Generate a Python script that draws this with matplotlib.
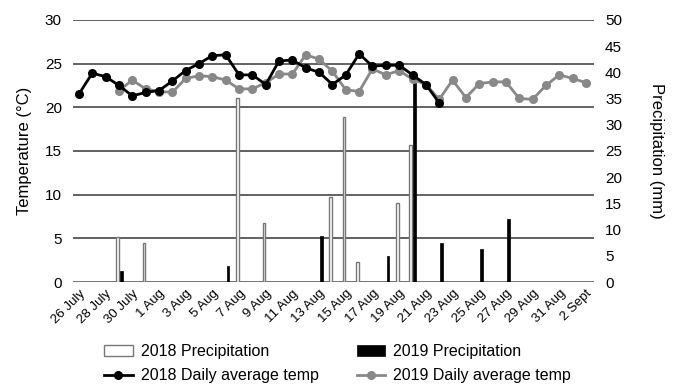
import matplotlib.pyplot as plt
import numpy as np

plt.rcParams['font.family'] = ['Liberation Sans', 'DejaVu Sans']

# dates 26 July .. 2 Sept (one value per day)
dates = ['26 July', '27 July', '28 July', '29 July', '30 July', '31 July',
         '1 Aug', '2 Aug', '3 Aug', '4 Aug', '5 Aug', '6 Aug', '7 Aug', '8 Aug',
         '9 Aug', '10 Aug', '11 Aug', '12 Aug', '13 Aug', '14 Aug', '15 Aug',
         '16 Aug', '17 Aug', '18 Aug', '19 Aug', '20 Aug', '21 Aug', '22 Aug',
         '23 Aug', '24 Aug', '25 Aug', '26 Aug', '27 Aug', '28 Aug', '29 Aug',
         '30 Aug', '31 Aug', '1 Sept', '2 Sept']

nan = np.nan
temp2018 = [21.5, 23.9, 23.5, 22.5, 21.3, 21.7, 21.9, 23.0, 24.2, 25.0, 25.9,
            26.0, 23.7, 23.7, 22.6, 25.3, 25.4, 24.5, 24.0, 22.6, 23.7, 26.1,
            24.7, 24.8, 24.8, 23.7, 22.6, 20.5, nan, nan, nan, nan, nan, nan,
            nan, nan, nan, nan, nan]
temp2019 = [nan, nan, nan, 21.9, 23.1, 22.1, 21.8, 21.7, 23.3, 23.6, 23.5,
            23.1, 22.1, 22.1, 22.8, 23.8, 23.8, 26.0, 25.5, 24.1, 22.0, 21.8,
            24.4, 23.7, 24.2, 23.2, 22.6, 20.9, 23.1, 21.1, 22.7, 22.9, 22.9,
            21.0, 20.9, 22.5, 23.7, 23.3, 22.8]

precip2018 = [0, 0, 0, 8.6, 0, 7.5, 0, 0, 0, 0, 0, 0, 35.1, 0, 11.2, 0, 0, 0,
              0, 16.3, 31.4, 3.9, 0, 0, 15.0, 26.2, 0, 0, 0, 0, 0, 0, 0, 0,
              0, 0, 0, 0, 0]
precip2019 = [0, 0, 0, 2.1, 0, 0, 0, 0, 0, 0, 0, 3.0, 0, 0, 0, 0, 0, 0, 8.7,
              0, 0, 0, 0, 4.9, 0, 38.0, 0, 7.5, 0, 0, 6.3, 0, 12.0, 0, 0, 0,
              0, 0, 0]

x = np.arange(len(dates))

fig = plt.figure(figsize=(6.75, 3.89), dpi=100)
ax = fig.add_axes([0.108, 0.275, 0.772, 0.674])
ax2 = ax.twinx()   # precipitation bars
ax3 = ax.twinx()   # temperature lines, drawn on top

# grid on the base axis
for v in range(5, 31, 5):
    ax.axhline(v, color='#555555', lw=1.3, zorder=0)
ax.axhline(0, color='#666666', lw=2, zorder=0)

w = 0.2
ax2.bar(x - 0.13, precip2018, width=w, color='white', edgecolor='#777777',
        linewidth=1.0, label='2018 Precipitation')
ax2.bar(x + 0.17, precip2019, width=w, color='black', edgecolor='black',
        linewidth=0.5, label='2019 Precipitation')

ax3.plot(x, temp2019, color='#888888', lw=2, marker='o', ms=5.5,
         label='2019 Daily average temp')
ax3.plot(x, temp2018, color='black', lw=2, marker='o', ms=5.5,
         label='2018 Daily average temp')

for a in (ax, ax2, ax3):
    a.set_xlim(-0.45, 38.6)
    for s in a.spines.values():
        s.set_visible(False)
    a.tick_params(length=0)

ax.set_ylim(0, 30)
ax3.set_ylim(0, 30)
ax2.set_ylim(0, 50)
ax.set_yticks(range(0, 31, 5))
ax2.set_yticks(range(0, 51, 5))
ax3.set_yticks([])
ax.tick_params(axis='y', labelsize=11, pad=8)
ax2.tick_params(axis='y', labelsize=11, pad=8)

ax.set_xticks(x[::2])
ax.set_xticklabels(dates[::2], rotation=45, ha='right',
                   rotation_mode='anchor', fontsize=9.5)
ax.tick_params(axis='x', pad=4)

ax.set_ylabel('Temperature (°C)', fontsize=12, labelpad=9)
ax2.set_ylabel('Precipitation (mm)', fontsize=12, rotation=270, labelpad=30)

h1, l1 = ax2.get_legend_handles_labels()
h3, l3 = ax3.get_legend_handles_labels()
handles = [h1[0], h3[1], h1[1], h3[0]]
labels = [l1[0], l3[1], l1[1], l3[0]]
fig.legend(handles, labels, ncol=2, loc='lower center',
           bbox_to_anchor=(0.5, -0.022), frameon=False, fontsize=11.5,
           handlelength=1.8, handletextpad=0.5, columnspacing=2.4,
           labelspacing=0.55)

fig.savefig('out.png', dpi=100)
